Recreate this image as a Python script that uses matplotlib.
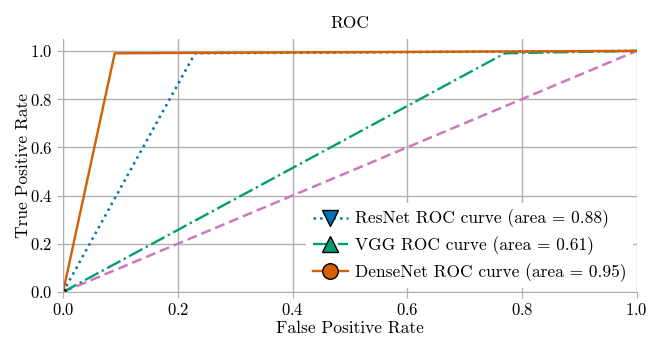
import matplotlib
matplotlib.use('Agg')
import matplotlib.pyplot as plt

# ROC points
resnet_fpr = [0.0, 0.23, 1.0]
resnet_tpr = [0.0, 0.99, 1.0]
vgg_fpr = [0.0, 0.77, 1.0]
vgg_tpr = [0.0, 0.99, 1.0]
dense_fpr = [0.0, 0.09, 1.0]
dense_tpr = [0.0, 0.99, 1.0]
chance = [0.0, 1.0]

labels = ['ResNet ROC curve (area = 0.88)',
          'VGG ROC curve (area = 0.61)',
          'DenseNet ROC curve (area = 0.95)']
ticks = [0.0, 0.2, 0.4, 0.6, 0.8, 1.0]

plt.rcParams.update({
    'font.family': 'serif',
    'font.serif': ['cmr10'],
    'mathtext.fontset': 'cm',
    'axes.formatter.use_mathtext': True,
    'font.size': 12,
})

fig, ax = plt.subplots(figsize=(6.64, 3.53), dpi=100)

ax.plot(chance, chance, '--', color='#cc78bc', lw=1.8, dashes=(4, 2))
ax.plot(resnet_fpr, resnet_tpr, ':', color='#0173b2', lw=1.8, marker='v',
        markevery=[0], ms=4, mfc='#0173b2', mec='black', label=labels[0])
ax.plot(vgg_fpr, vgg_tpr, '-.', color='#029e73', lw=1.7, marker='^',
        markevery=[0], ms=4, mfc='#029e73', mec='black', label=labels[1])
ax.plot(dense_fpr, dense_tpr, '-', color='#d55e00', lw=1.7, marker='o',
        markevery=[0], ms=4, mfc='#d55e00', mec='black', label=labels[2])

ax.set_xlim(0, 1)
ax.set_ylim(0, 1.05)
ax.set_xticks(ticks)
ax.set_yticks(ticks)
ax.grid(True, color='#b0b0b0', lw=1)
ax.set_axisbelow(True)
for s in ['top', 'right']:
    ax.spines[s].set_visible(False)
ax.spines['left'].set_color('#b0b0b0')
ax.spines['bottom'].set_color('#b0b0b0')
ax.tick_params(color='#b0b0b0', length=4, labelsize=12)

ax.set_xlabel('False Positive Rate', fontsize=12.5, labelpad=2)
ax.set_ylabel('True Positive Rate', fontsize=12.5, labelpad=-1)
ax.set_title('ROC', fontsize=12.5, pad=8)
leg = ax.legend(loc='lower right', markerscale=2.8, fontsize=12.5,
                handlelength=2, handletextpad=0.4, borderaxespad=0.2,
                labelspacing=0.45, frameon=True, framealpha=1,
                edgecolor='none', facecolor='white', fancybox=False)

fig.subplots_adjust(left=0.095, right=0.959, bottom=0.173, top=0.89)
fig.savefig('out.png', dpi=100)
